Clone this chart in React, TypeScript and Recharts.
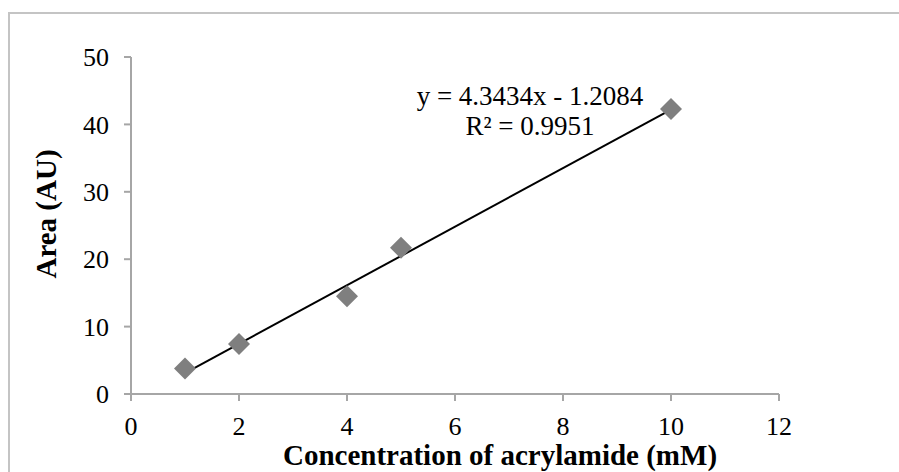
import React from 'react';
import { ComposedChart, Scatter, XAxis, YAxis, Customized } from 'recharts';

// measured points
const concentration = [1, 2, 4, 5, 10];
const area = [3.8, 7.4, 14.5, 21.7, 42.3];

// fitted line ends
const trendX = [1, 10];
const trendY = [3.1, 42.2];

const xTicks = [0, 2, 4, 6, 8, 10, 12];
const yTicks = [0, 10, 20, 30, 40, 50];

const equation = 'y = 4.3434x - 1.2084';
const rSquared = 'R² = 0.9951';

const points = concentration.map((x, i) => ({ x, y: area[i] }));
const trend = trendX.map((x, i) => ({ x, y: trendY[i] }));

const font = '"Liberation Serif", "Times New Roman", serif';
const axisColor = '#a6a6a6';

const Diamond = (props: any) => {
  const { cx, cy } = props;
  const r = 11;
  return (
    <polygon
      points={`${cx},${cy - r} ${cx + r},${cy} ${cx},${cy + r} ${cx - r},${cy}`}
      fill="#7f7f7f"
    />
  );
};

const Annotations = () => (
  <g fontFamily={font} fill="#000">
    <text x={530} y={105} textAnchor="middle" fontSize={27}>{equation}</text>
    <text x={530} y={135} textAnchor="middle" fontSize={27}>{rSquared}</text>
    <text
      x={46}
      y={214}
      textAnchor="middle"
      dominantBaseline="central"
      fontWeight="bold"
      fontSize={29}
      transform="rotate(-90 46 214)"
    >
      Area (AU)
    </text>
    <text x={500} y={465} textAnchor="middle" fontWeight="bold" fontSize={29}>
      Concentration of acrylamide (mM)
    </text>
  </g>
);

export default function App() {
  return (
    <div style={{ position: 'absolute', left: 0, top: 0, width: 899, height: 472, background: '#fff', overflow: 'hidden' }}>
      <div
        style={{
          position: 'absolute', left: 8, top: 12, width: 920, height: 500,
          borderTop: '2px solid #c4c4c4', borderLeft: '2px solid #c4c4c4',
        }}
      />
      <div style={{ position: 'absolute', left: 0, top: 0 }}>
        <ComposedChart width={899} height={472} margin={{ top: 57, right: 120, bottom: 0, left: 0 }}>
          <XAxis
            type="number"
            dataKey="x"
            domain={[0, 12]}
            ticks={xTicks}
            height={78}
            stroke={axisColor}
            strokeWidth={2}
            tickSize={7}
            tickMargin={16}
            tick={{ fill: '#000', fontSize: 26, fontFamily: font }}
          />
          <YAxis
            type="number"
            dataKey="y"
            domain={[0, 50]}
            ticks={yTicks}
            width={131}
            stroke={axisColor}
            strokeWidth={2}
            tickSize={7}
            tickMargin={15}
            tick={{ fill: '#000', fontSize: 26, fontFamily: font }}
          />
          <Scatter
            data={trend}
            line={{ stroke: '#000', strokeWidth: 2 }}
            shape={() => null}
            isAnimationActive={false}
          />
          <Scatter data={points} shape={Diamond} isAnimationActive={false} />
          <Customized component={Annotations} />
        </ComposedChart>
      </div>
    </div>
  );
}
